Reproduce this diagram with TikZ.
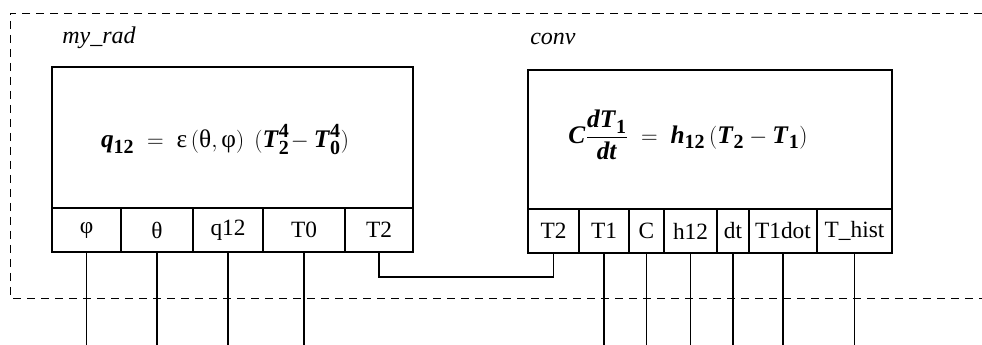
\documentclass[tikz,border=0pt]{standalone}
\usepackage{amsmath}
\usepackage{fontspec}
\setmainfont{Liberation Serif}
\DeclareMathSizes{19}{19}{15}{12}
\newcommand{\bi}[1]{\textbf{\textit{#1}}}
\newcommand{\bd}[1]{\textbf{#1}}
\tikzset{
  blk/.style={draw, line width=0.9pt, inner sep=0pt, outer sep=0pt},
  port/.style={draw, line width=0.9pt, inner sep=0pt, outer sep=0pt, minimum height=33pt, font=\fontsize{17.5}{20}\selectfont},
  wire/.style={line width=0.8pt},
  frame/.style={line width=0.7pt, dash pattern=on 6pt off 4.5pt},
  title/.style={anchor=base west, inner sep=0pt, font=\fontsize{18}{21}\selectfont\itshape},
  eq/.style={inner sep=0pt, font=\fontsize{19}{23}\selectfont}
}
\begin{document}
\begin{tikzpicture}[x=0.75pt, y=-0.75pt]
\useasboundingbox (0,0) rectangle (982,345);
% frame
\draw[frame] (982,13) -- (10,13) -- (10,298) -- (982,298);
% titles
\node[title] (t1) at (62,44) {my\_rad};
\node[title] (t2) at (530,45) {conv};
% left block
\node[blk, minimum width=270.75pt, minimum height=105.75pt] (rad) at (232.5,137.5) {};
\node[eq] (eq1) at (225,140) {$\bi{q}_{\bd{12}} \;=\; \text{ε}\,(\text{θ}, \text{φ})\;\,(\bi{T}^{\bd{4}}_{\bd{2}}\! - \bi{T}^{\bd{4}}_{\bd{0}})$};
\node[port, minimum width=51.75pt] (r1) at (86.5,230) {φ};
\node[port, minimum width=54pt] (r2) at (157,230) {θ};
\node[port, minimum width=52.5pt] (r3) at (228,230) {q12};
\node[port, minimum width=61.5pt] (r4) at (304,230) {T0};
\node[port, minimum width=51pt] (r5) at (379,230) {T2};
% right block
\node[blk, minimum width=273pt, minimum height=104.25pt] (conv) at (710,139.5) {};
\node[eq] (eq2) at (688,135) {$\bi{C}\dfrac{\bi{dT}_{\bd{1}}}{\bi{dt}} \;=\; \bi{h}_{\bd{12}}\,(\bi{T}_{\bd{2}} - \bi{T}_{\bd{1}})$};
\node[port, minimum width=38.25pt] (c1) at (553.5,231) {T2};
\node[port, minimum width=37.5pt] (c2) at (604,231) {T1};
\node[port, minimum width=26.25pt] (c3) at (646.5,231) {C};
\node[port, minimum width=39.75pt] (c4) at (690.5,231) {h12};
\node[port, minimum width=24pt] (c5) at (733,231) {dt};
\node[port, minimum width=51pt] (c6) at (783,231) {T1dot};
\node[port, minimum width=56.25pt] (c7) at (854.5,231) {T\_hist};
% wires
\coordinate (bot) at (0,345);
\coordinate (mid) at (0,277);
\foreach \p in {r1,r2,r3,r4,c2,c3,c4,c5,c6,c7}{
  \draw[wire] (\p.south) -- (\p.south |- bot);
}
\draw[wire] (r5.south) -- (r5.south |- mid) -| (c1.south);
\end{tikzpicture}
\end{document}
